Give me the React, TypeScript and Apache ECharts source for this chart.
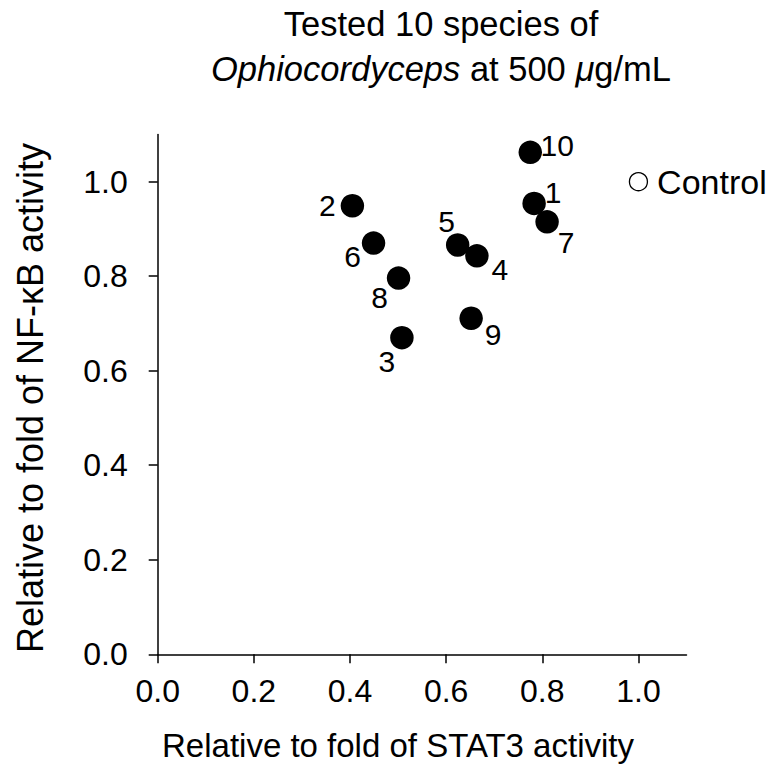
import { useEffect, useRef } from 'react';
import * as echarts from 'echarts';

const speciesLabels = ['1', '2', '3', '4', '5', '6', '7', '8', '9', '10'];
const stat3Values = [0.783, 0.405, 0.508, 0.664, 0.624, 0.449, 0.81, 0.501, 0.652, 0.775];
const nfkbValues = [0.954, 0.949, 0.67, 0.843, 0.866, 0.87, 0.915, 0.796, 0.711, 1.062];
const controlPoint = [1.0, 1.0];
const controlLabel = 'Control';
const tickValues = [0, 0.2, 0.4, 0.6, 0.8, 1.0];
const xAxisTitle = 'Relative to fold of STAT3 activity';
const yAxisTitle = 'Relative to fold of NF-κB activity';
const titleLine1 = 'Tested 10 species of';
const titleLine2 = '{i|Ophiocordyceps} at 500 {i|μ}g/mL';

const labelOffsets = [
  [19, -11], [-25, 0], [-15, 24], [23, 14], [-11, -23],
  [-21, 13], [19, 21], [-19, 19], [22, 16], [27, -7],
];

const FONT = '"Liberation Sans", Arial, sans-serif';

export default function App() {
  const ref = useRef<HTMLDivElement>(null);
  useEffect(() => {
    if (!ref.current) return;
    const chart = echarts.init(ref.current, null, { renderer: 'svg' });
    const data = speciesLabels.map((name, i) => ({
      name,
      value: [stat3Values[i], nfkbValues[i]],
      label: { offset: labelOffsets[i] },
    }));
    const axisCommon = {
      type: 'value' as const,
      min: 0,
      max: 1.1,
      splitLine: { show: false },
      axisLine: { show: true, onZero: false, lineStyle: { color: '#000', width: 1.5 } },
      axisTick: {
        show: true,
        inside: false,
        length: 9,
        customValues: tickValues,
        lineStyle: { color: '#000', width: 1.5 },
      },
    };
    chart.setOption({
      animation: false,
      backgroundColor: '#fff',
      grid: {
        left: 157.7,
        right: 80.5,
        top: 134.4,
        bottom: 109.7,
        containLabel: false,
        outerBoundsMode: 'none',
      },
      xAxis: {
        ...axisCommon,
        axisLabel: {
          customValues: tickValues,
          formatter: (v: number) => v.toFixed(1),
          fontSize: 32,
          fontFamily: FONT,
          color: '#000',
          margin: 21,
        },
      },
      yAxis: {
        ...axisCommon,
        axisLabel: {
          customValues: tickValues,
          formatter: (v: number) => v.toFixed(1),
          fontSize: 32,
          fontFamily: FONT,
          color: '#000',
          margin: 30,
        },
      },
      graphic: [
        {
          type: 'text',
          x: 441,
          y: 46,
          style: {
            text: titleLine1 + '\n' + titleLine2,
            fontSize: 34.5,
            fontFamily: FONT,
            fill: '#000',
            align: 'center',
            verticalAlign: 'middle',
            lineHeight: 45,
            rich: {
              i: { fontSize: 34.5, fontFamily: FONT, fontStyle: 'italic', fill: '#000', lineHeight: 45 },
            },
          },
        },
        {
          type: 'text',
          x: 398,
          y: 745,
          style: {
            text: xAxisTitle,
            fontSize: 33,
            fontFamily: FONT,
            fill: '#000',
            align: 'center',
            verticalAlign: 'middle',
          },
        },
        {
          type: 'text',
          x: 30,
          y: 398,
          rotation: Math.PI / 2,
          style: {
            text: yAxisTitle,
            fontSize: 36,
            fontFamily: FONT,
            fill: '#000',
            align: 'center',
            verticalAlign: 'middle',
          },
        },
      ],
      series: [
        {
          type: 'scatter',
          symbol: 'circle',
          symbolSize: 23.5,
          itemStyle: { color: '#000', opacity: 1 },
          label: {
            show: true,
            position: 'inside',
            formatter: '{b}',
            fontSize: 30,
            fontFamily: FONT,
            color: '#000',
            align: 'center',
            verticalAlign: 'middle',
          },
          emphasis: { disabled: true },
          data,
        },
        {
          type: 'scatter',
          symbol: 'circle',
          symbolSize: 18,
          itemStyle: { color: '#fff', borderColor: '#000', borderWidth: 1.3, opacity: 1 },
          label: {
            show: true,
            position: 'right',
            distance: 9,
            formatter: controlLabel,
            fontSize: 34,
            fontFamily: FONT,
            color: '#000',
          },
          emphasis: { disabled: true },
          data: [{ name: controlLabel, value: controlPoint }],
        },
      ],
    });
    return () => chart.dispose();
  }, []);
  return <div ref={ref} style={{ position: 'fixed', left: 0, top: 0, width: 767, height: 764 }} />;
}
